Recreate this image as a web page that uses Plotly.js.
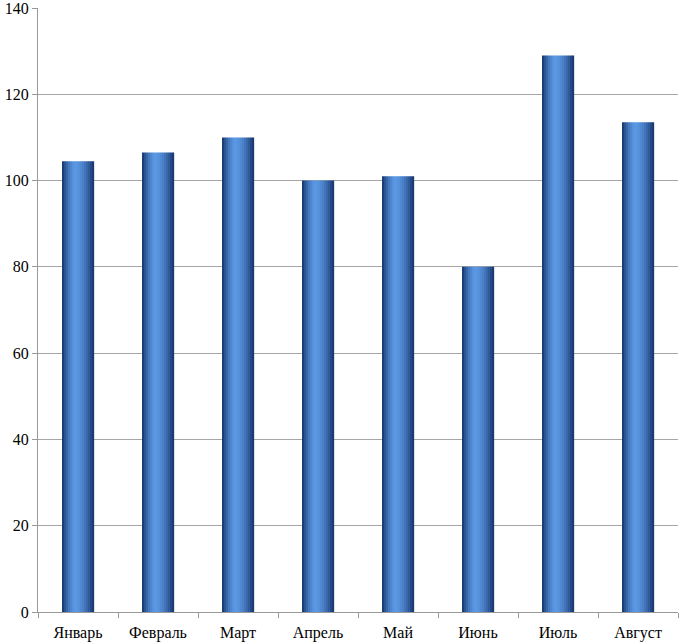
<!DOCTYPE html>
<html>
<head>
<meta charset="utf-8">
<script src="https://cdn.plot.ly/plotly-3.0.1.min.js"></script>
<style>html,body{margin:0;padding:0;background:#fff}#chart{width:682px;height:644px}</style>
</head>
<body>
<div id="chart"></div>
<script>
const months = ["Январь","Февраль","Март","Апрель","Май","Июнь","Июль","Август"];
const values = [104.5, 106.5, 110, 100, 101, 80, 129, 113.5];
const yTicks = [0, 20, 40, 60, 80, 100, 120, 140];

// cylinder shading: strips across the bar width
const BAR_W = 0.4;
const N = 16;
function shade(t) {
  const dark = [20, 50, 105], light = [90, 152, 228];
  const c = 0.42;
  let k = 1 - Math.pow(Math.abs(t - c) / (t < c ? c : 1 - c), 1.6);
  k = Math.max(0, Math.min(1, k));
  const r = dark.map((d, i) => Math.round(d + (light[i] - d) * k));
  return `rgb(${r[0]},${r[1]},${r[2]})`;
}
const traces = [];
for (let i = 0; i < N; i++) {
  const t = (i + 0.5) / N;
  traces.push({
    type: 'bar',
    x: months,
    y: values,
    width: BAR_W / N + 0.002,
    offset: -BAR_W / 2 + i * BAR_W / N,
    marker: {color: shade(t), line: {width: 0}},
    hoverinfo: 'skip',
    showlegend: false
  });
}

const layout = {
  width: 682, height: 644,
  margin: {l: 38, r: 4, t: 8, b: 32},
  paper_bgcolor: '#fff', plot_bgcolor: '#fff',
  barmode: 'overlay',
  showlegend: false,
  font: {family: '"Liberation Serif", "Times New Roman", serif', size: 16, color: '#000'},
  xaxis: {
    type: 'category',
    showgrid: false,
    showline: true, linecolor: '#999', linewidth: 1,
    ticks: 'outside', tickson: 'boundaries', ticklen: 5, tickcolor: '#999',
    tickfont: {size: 16},
    ticklabelstandoff: 6,
    ticklabeloverflow: 'allow',
    automargin: false,
    zeroline: false
  },
  yaxis: {
    range: [0, 140],
    tickvals: yTicks,
    ticktext: yTicks.map(String),
    showgrid: true, gridcolor: '#a6a6a6', gridwidth: 1,
    showline: true, linecolor: '#999', linewidth: 1,
    ticks: 'outside', ticklen: 5, tickcolor: '#999',
    tickfont: {size: 16},
    ticklabeloverflow: 'allow',
    automargin: false,
    zeroline: false
  }
};
Plotly.newPlot('chart', traces, layout, {staticPlot: true});
</script>
</body>
</html>
